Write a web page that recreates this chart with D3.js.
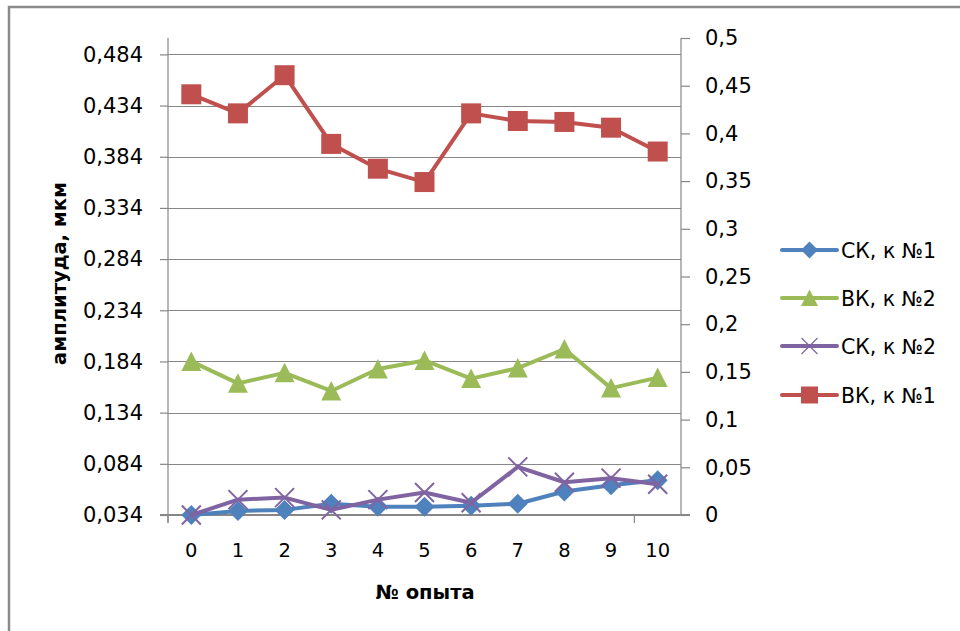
<!DOCTYPE html>
<html>
<head>
<meta charset="utf-8">
<script src="https://cdn.jsdelivr.net/npm/d3@7"></script>
<style>
  html, body { margin: 0; padding: 0; background: #fff; }
  svg { display: block; font-family: "DejaVu Sans", Verdana, sans-serif; }
</style>
</head>
<body>
<svg id="chart" width="960" height="631"></svg>
<script>
// Experiment numbers (x categories)
const experiments = [0, 1, 2, 3, 4, 5, 6, 7, 8, 9, 10];

// Amplitudes, µm — СК series on the left axis, ВК series on the right axis
const sk1 = [0.034, 0.038, 0.039, 0.045, 0.042, 0.042, 0.043, 0.045, 0.057, 0.063, 0.068];
const vk2 = [0.161, 0.138, 0.149, 0.130, 0.153, 0.162, 0.143, 0.154, 0.174, 0.133, 0.144];
const sk2 = [0.034, 0.049, 0.051, 0.039, 0.049, 0.056, 0.046, 0.081, 0.066, 0.070, 0.064];
const vk1 = [0.441, 0.421, 0.461, 0.389, 0.363, 0.349, 0.421, 0.413, 0.412, 0.406, 0.381];

// Axis ticks
const leftTicks = [0.034, 0.084, 0.134, 0.184, 0.234, 0.284, 0.334, 0.384, 0.434, 0.484];
const rightTicks = [0, 0.05, 0.1, 0.15, 0.2, 0.25, 0.3, 0.35, 0.4, 0.45, 0.5];
const leftDomain = [0.034, 0.5];
const rightDomain = [0, 0.5];

const series = [
  { name: "СК, к №1", values: sk1, axis: "left",  color: "#4F81BD", marker: "diamond" },
  { name: "ВК, к №2", values: vk2, axis: "right", color: "#9BBB59", marker: "triangle" },
  { name: "СК, к №2", values: sk2, axis: "left",  color: "#8064A2", marker: "cross" },
  { name: "ВК, к №1", values: vk1, axis: "right", color: "#C0504D", marker: "square" }
];

const svg = d3.select("#chart");
const plot = { left: 168, right: 681, top: 38, bottom: 515 };
const axisColor = "#878787";
const fmt = v => d3.format("")(+v.toFixed(3)).replace(".", ",");

// Outer frame (top and left edges fall inside the canvas)
svg.append("path")
  .attr("d", `M9,640 L9,7 L970,7`)
  .attr("fill", "none").attr("stroke", "#8a8a8a").attr("stroke-width", 2.5);

const x = d3.scaleBand().domain(experiments).range([plot.left, plot.right]).padding(0);
const yL = d3.scaleLinear().domain(leftDomain).range([plot.bottom, plot.top]);
const yR = d3.scaleLinear().domain(rightDomain).range([plot.bottom, plot.top]);

// Horizontal gridlines at the left-axis ticks
svg.append("g").selectAll("line")
  .data(leftTicks.slice(1))
  .join("line")
  .attr("x1", plot.left).attr("x2", plot.right)
  .attr("y1", d => Math.round(yL(d)) + 0.5).attr("y2", d => Math.round(yL(d)) + 0.5)
  .attr("stroke", axisColor).attr("stroke-width", 1.2);

// Left axis
const leftAxis = svg.append("g")
  .attr("transform", `translate(${plot.left},0)`)
  .call(d3.axisLeft(yL).tickValues(leftTicks).tickSize(8).tickPadding(17).tickFormat(fmt));
leftAxis.select(".domain").attr("stroke", axisColor).attr("stroke-width", 1.2)
  .attr("d", `M0,${plot.top}V${plot.bottom + 8}`);
leftAxis.selectAll(".tick line").attr("stroke", axisColor).attr("stroke-width", 1.2);
leftAxis.selectAll(".tick text").attr("font-size", 21).attr("fill", "#000")
  .attr("font-family", "DejaVu Sans");

// Right axis
const rightAxis = svg.append("g")
  .attr("transform", `translate(${plot.right},0)`)
  .call(d3.axisRight(yR).tickValues(rightTicks).tickSize(9).tickPadding(15).tickFormat(fmt));
rightAxis.select(".domain").attr("stroke", axisColor).attr("stroke-width", 1.2)
  .attr("d", `M0,${plot.top}V${plot.bottom}`);
rightAxis.selectAll(".tick line").attr("stroke", axisColor).attr("stroke-width", 1.2);
rightAxis.selectAll(".tick text").attr("font-size", 21).attr("fill", "#000")
  .attr("font-family", "DejaVu Sans");

// Category axis: line along the bottom, tick marks every 10 categories
svg.append("line")
  .attr("x1", plot.left - 8).attr("x2", plot.right + 9)
  .attr("y1", plot.bottom).attr("y2", plot.bottom)
  .attr("stroke", axisColor).attr("stroke-width", 2);
svg.append("g").selectAll("line")
  .data([experiments[0], experiments[10]])
  .join("line")
  .attr("x1", d => x(d)).attr("x2", d => x(d))
  .attr("y1", plot.bottom).attr("y2", plot.bottom + 8)
  .attr("stroke", axisColor).attr("stroke-width", 1.2);
svg.append("g").selectAll("text")
  .data(experiments)
  .join("text")
  .attr("x", d => x(d) + x.bandwidth() / 2)
  .attr("y", plot.bottom + 35)
  .attr("text-anchor", "middle")
  .attr("dominant-baseline", "central")
  .attr("font-size", 19.5)
  .attr("fill", "#000")
  .text(d => d);

// Axis titles
svg.append("text")
  .attr("transform", `translate(59,${(180 + 367) / 2}) rotate(-90)`)
  .attr("text-anchor", "middle")
  .attr("dominant-baseline", "central")
  .attr("font-size", 19.5).attr("font-weight", "bold")
  .text("амплитуда, мкм");
svg.append("text")
  .attr("x", 425).attr("y", 592)
  .attr("text-anchor", "middle")
  .attr("dominant-baseline", "central")
  .attr("font-size", 19.5).attr("font-weight", "bold")
  .text("№ опыта");

// Marker shapes centred on (0,0)
function drawMarker(g, type, color, s, crossWidth) {
  if (type === "square") {
    g.append("rect").attr("x", -s / 2).attr("y", -s / 2).attr("width", s).attr("height", s)
      .attr("fill", color);
  } else if (type === "diamond") {
    const h = s / 2;
    g.append("path").attr("d", `M0,${-h}L${h},0L0,${h}L${-h},0Z`).attr("fill", color);
  } else if (type === "triangle") {
    const h = s / 2;
    g.append("path").attr("d", `M0,${-h}L${h},${h * 0.95}L${-h},${h * 0.95}Z`).attr("fill", color);
  } else if (type === "cross") {
    const h = s / 2;
    g.append("path").attr("d", `M${-h},${-h}L${h},${h}M${h},${-h}L${-h},${h}`)
      .attr("stroke", color).attr("stroke-width", crossWidth || 2).attr("fill", "none");
  }
}

const markerSize = { square: 20, diamond: 20, triangle: 20, cross: 19 };

// Series lines and markers
series.forEach(s => {
  const y = s.axis === "left" ? yL : yR;
  const line = d3.line()
    .x((d, i) => x(experiments[i]) + x.bandwidth() / 2)
    .y(d => y(d));
  const g = svg.append("g");
  g.append("path")
    .datum(s.values)
    .attr("d", line)
    .attr("fill", "none")
    .attr("stroke", s.color)
    .attr("stroke-width", 4)
    .attr("stroke-linejoin", "round");
  s.values.forEach((v, i) => {
    const m = g.append("g")
      .attr("transform", `translate(${x(experiments[i]) + x.bandwidth() / 2},${y(v)})`);
    drawMarker(m, s.marker, s.color, markerSize[s.marker]);
  });
});

// Legend
const legendRows = [250, 298, 346, 395];
const legend = svg.append("g");
series.forEach((s, i) => {
  const row = legend.append("g").attr("transform", `translate(0,${legendRows[i]})`);
  row.append("line").attr("x1", 782).attr("x2", 837).attr("y1", 0).attr("y2", 0)
    .attr("stroke", s.color).attr("stroke-width", 4).attr("stroke-linecap", "round");
  const m = row.append("g").attr("transform", "translate(809.5,0)");
  drawMarker(m, s.marker, s.color, s.marker === "cross" ? 16 : 17, 1.2);
  row.append("text")
    .attr("x", 841).attr("y", 1)
    .attr("dominant-baseline", "central")
    .attr("font-size", 20.5)
    .attr("fill", "#000")
    .text(s.name);
});
</script>
</body>
</html>
